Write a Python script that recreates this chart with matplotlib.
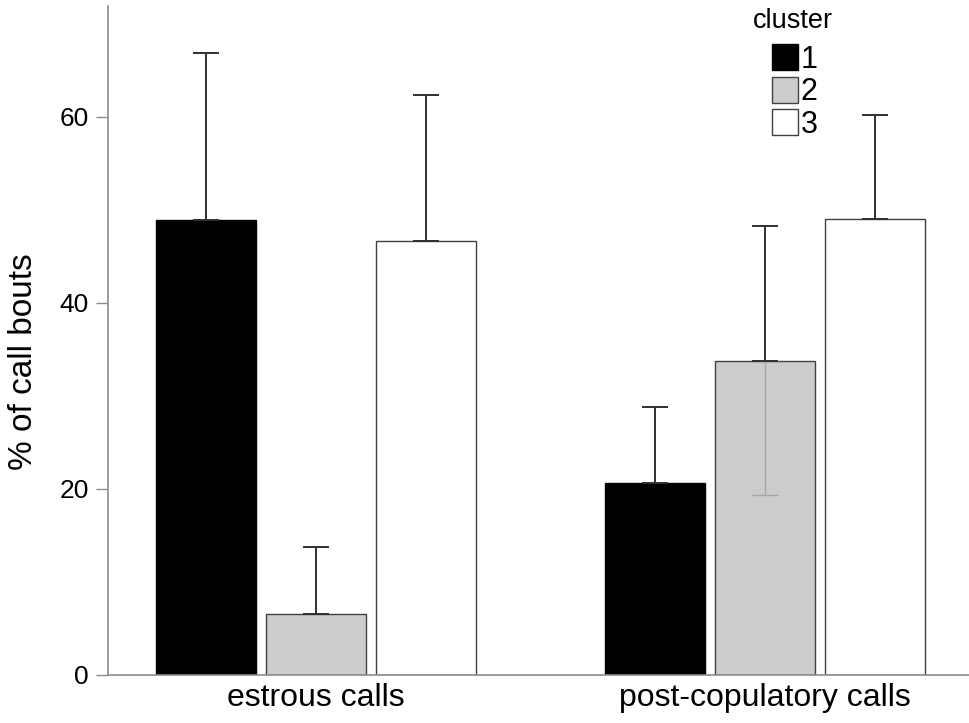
import numpy as np
import matplotlib.pyplot as plt
from matplotlib.patches import Rectangle

plt.rcParams["font.family"] = ["Liberation Sans", "DejaVu Sans"]

# data
groups = ["estrous calls", "post-copulatory calls"]
clusters = ["1", "2", "3"]
cluster_colors = ["#000000", "#cccccc", "#ffffff"]
cluster_edges = ["#000000", "#404040", "#404040"]

mean_c1 = [48.9, 20.6]
mean_c2 = [6.6, 33.8]
mean_c3 = [46.6, 49.0]
err_c1 = [18.0, 8.2]
err_c2 = [7.2, 14.5]
err_c3 = [15.7, 11.2]

means = [mean_c1, mean_c2, mean_c3]
errs = [err_c1, err_c2, err_c3]

W, H = 969, 723
fig = plt.figure(figsize=(W / 100, H / 100), dpi=100)
# axes placed in pixel terms
x0, x1, y0, y1 = 107.5, 969, 675, 6
ax = fig.add_axes([x0 / W, (H - y0) / H, (x1 - x0) / W, (y0 - y1) / H])

xg = np.arange(len(groups))
bw = 0.2227
step = 0.2457

for i, lab in enumerate(clusters):
    xs = xg + (i - 1) * step
    m = np.array(means[i])
    e = np.array(errs[i])
    ax.bar(xs, m, width=bw, color=cluster_colors[i], edgecolor=cluster_edges[i],
           linewidth=1.0, zorder=2)
    # upper whiskers
    ax.errorbar(xs, m, yerr=[np.zeros_like(e), e], fmt="none", ecolor="#303030",
                elinewidth=1.4, capsize=9.7, capthick=1.4, zorder=4)
    # lower whisker seen through the grey bars
    if i == 1:
        ok = m - e > 0
        ax.errorbar(xs[ok], m[ok], yerr=[e[ok], np.zeros(ok.sum())], fmt="none",
                    ecolor="#a6a6a6", elinewidth=1.0, capsize=9.7, capthick=1.0,
                    zorder=3)

ax.set_xlim(-0.464, 1.4546)
ax.set_ylim(0, 71.9)
ax.set_xticks(xg)
ax.set_xticklabels(groups)
ax.set_yticks([0, 20, 40, 60])

for s in ["top", "right"]:
    ax.spines[s].set_visible(False)
for s in ["left", "bottom"]:
    ax.spines[s].set_color("#8c8c8c")
    ax.spines[s].set_linewidth(1.2)

ax.tick_params(axis="y", length=8.5, width=1.0, color="#8c8c8c", labelsize=19, pad=5)
ax.tick_params(axis="x", length=0, labelsize=23, pad=6)

ax.set_ylabel("% of call bouts", fontsize=24)
ax.yaxis.set_label_coords(-0.079, 0.469)

# legend drawn by hand in pixel positions
def fx(px):
    return px / W

def fy(py):
    return (H - py) / H

fig.text(fx(753), fy(28), "cluster", fontsize=19.5, ha="left", va="baseline")
for i, lab in enumerate(clusters):
    top = 44 + i * 32.5
    fig.add_artist(Rectangle((fx(772), fy(top + 26)), 25.5 / W, 26 / H,
                             transform=fig.transFigure, facecolor=cluster_colors[i],
                             edgecolor=cluster_edges[i], linewidth=1.0))
    fig.text(fx(800.5), fy(top + 24), lab, fontsize=22, ha="left", va="baseline")

fig.savefig("out.png", dpi=100)
